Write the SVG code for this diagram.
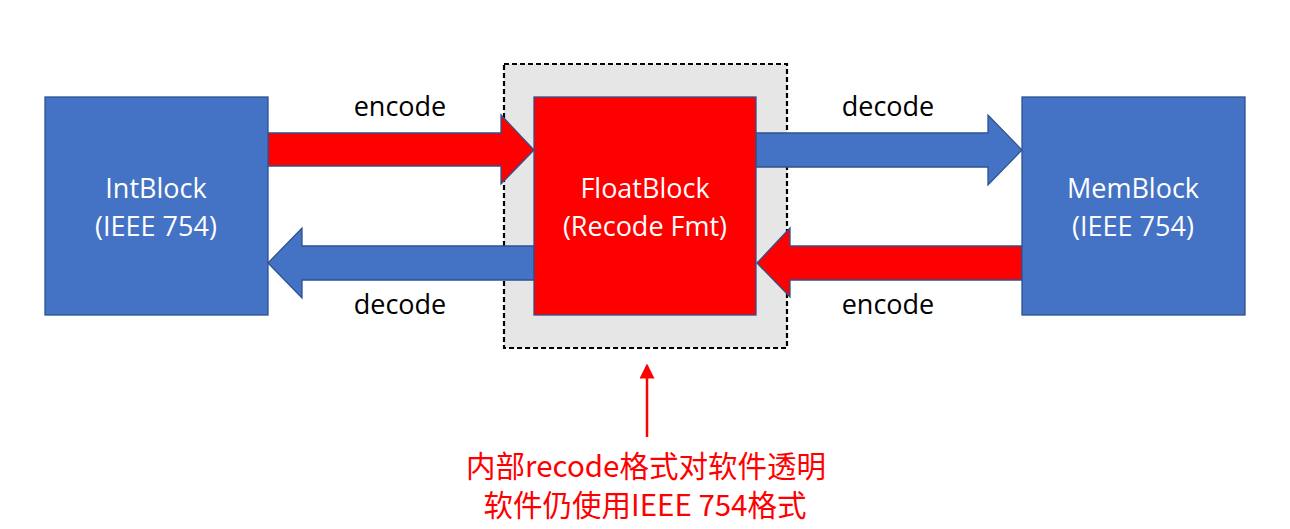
<svg xmlns="http://www.w3.org/2000/svg" width="1290" height="529" viewBox="0 0 1290 529">
<style>
.blue{fill:#4472C4;stroke:#2F528F;stroke-width:1.3}
.red{fill:#FF0000;stroke:#2F528F;stroke-width:1.3}
.lbl{font-family:"Open Sans","Liberation Sans",sans-serif;font-size:27px;fill:#000;text-anchor:middle}
.nt{font-family:"Open Sans","Liberation Sans",sans-serif;font-size:27px;fill:#fff;text-anchor:middle}
.cn{font-family:"Noto Sans CJK SC","Noto Sans",sans-serif;font-size:29.5px;fill:#FF0000;text-anchor:middle}
</style>
<defs>
<marker id="ah" markerWidth="6" markerHeight="6" refX="5" refY="3" orient="auto" markerUnits="strokeWidth">
<path d="M0,0 L6,3 L0,6 Z" fill="#FF0000"/>
</marker>
</defs>
<rect width="1290" height="529" fill="#fff"/>
<g id="recode-boundary">
<rect x="504" y="64" width="283" height="284" fill="#E7E6E6" stroke="#000" stroke-width="2.2" stroke-dasharray="5,3"/>
</g>
<g id="connectors">
<path class="red" d="M268,133 H501 V115 L534,150 L501,184 V166 H268 Z"/>
<path class="blue" d="M534,246 H302 V228 L268,263 L302,298 V280 H534 Z"/>
<path class="blue" d="M756,133 H988 V115 L1022,150 L988,185 V167 H756 Z"/>
<path class="red" d="M1022,246 H790 V228 L757,263 L790,297 V280 H1022 Z"/>
<line x1="647" y1="437" x2="647" y2="366" stroke="#FF0000" stroke-width="2.5" marker-end="url(#ah)"/>
<text class="lbl" x="400" y="116">encode</text>
<text class="lbl" x="400" y="314">decode</text>
<text class="lbl" x="888" y="116">decode</text>
<text class="lbl" x="888" y="314">encode</text>
</g>
<g id="IntBlock">
<rect class="blue" x="45" y="97" width="223" height="218"/>
<text class="nt" x="156" y="198">IntBlock</text>
<text class="nt" x="156" y="236">(IEEE 754)</text>
</g>
<g id="FloatBlock">
<rect class="red" x="534" y="97" width="222" height="218"/>
<text class="nt" x="645" y="198">FloatBlock</text>
<text class="nt" x="645" y="236">(Recode Fmt)</text>
</g>
<g id="MemBlock">
<rect class="blue" x="1022" y="97" width="223" height="218"/>
<text class="nt" x="1133" y="198">MemBlock</text>
<text class="nt" x="1133" y="236">(IEEE 754)</text>
</g>
<g id="note">
<text class="cn" x="646" y="477">内部recode格式对软件透明</text>
<text class="cn" x="645" y="516">软件仍使用IEEE 754格式</text>
</g>
</svg>
